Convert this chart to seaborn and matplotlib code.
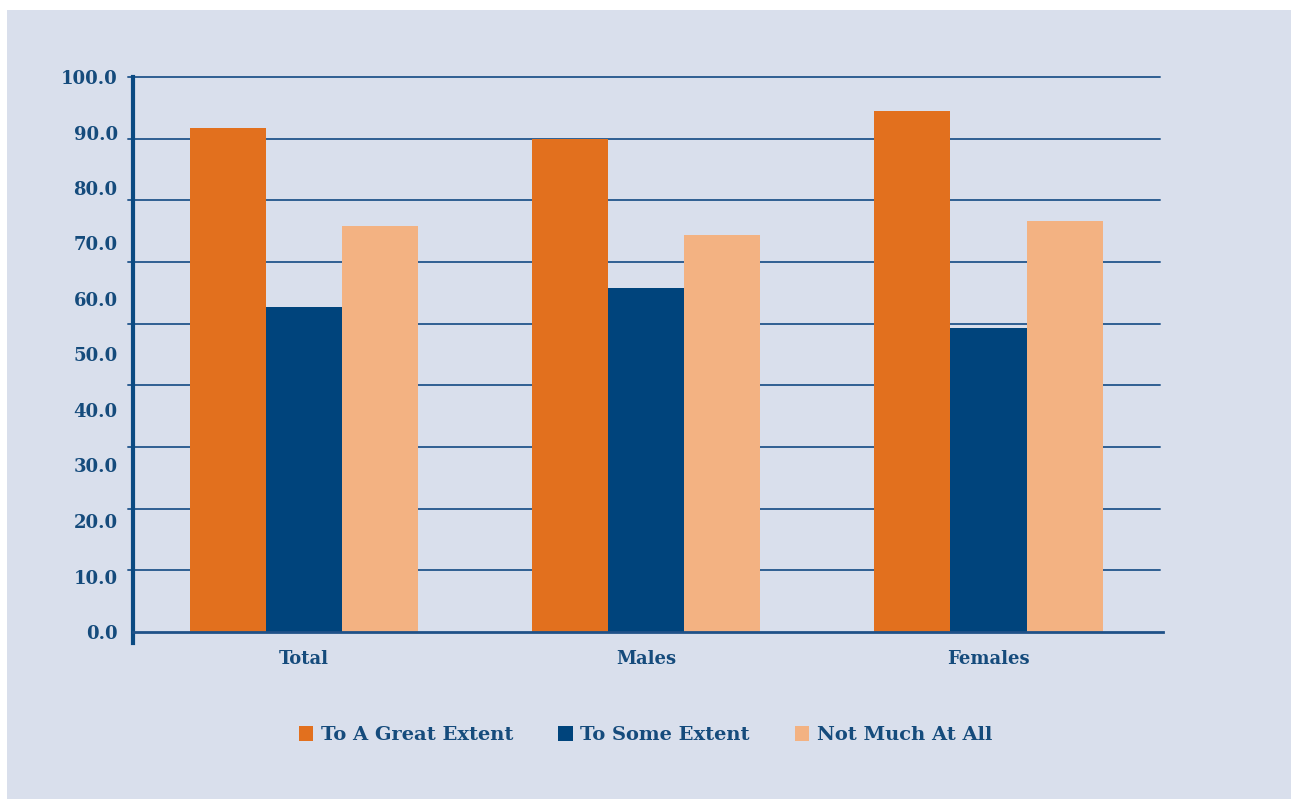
import numpy as np
import pandas as pd
import matplotlib
matplotlib.use("Agg")
import matplotlib.pyplot as plt
import seaborn as sns
from matplotlib.patches import Rectangle, Patch

# ---- data ----
groups = ["Total", "Males", "Females"]
responses = ["To A Great Extent", "To Some Extent", "Not Much At All"]
great_extent = [90.8, 88.8, 93.9]
some_extent = [58.6, 62.0, 54.8]
not_much = [73.2, 71.5, 74.1]
y_tick_values = [0, 10, 20, 30, 40, 50, 60, 70, 80, 90, 100]
y_tick_labels = ["0.0", "10.0", "20.0", "30.0", "40.0", "50.0",
                 "60.0", "70.0", "80.0", "90.0", "100.0"]

colors = ["#e2701e", "#00447c", "#f3b282"]
text_color = "#154b7c"
line_color = "#2f5f92"
panel_color = "#d9dfec"

df = pd.DataFrame({
    "group": groups * 3,
    "response": [responses[0]] * 3 + [responses[1]] * 3 + [responses[2]] * 3,
    "value": great_extent + some_extent + not_much,
})

sns.set_theme(style="white")
plt.rcParams["font.family"] = ["DejaVu Serif"]

W, H = 1291, 799
fig = plt.figure(figsize=(W / 100, H / 100), dpi=100, facecolor="white")
fig.patches.append(Rectangle((7 / W, 0), (W - 7) / W, 1 - 10 / H,
                             transform=fig.transFigure, facecolor=panel_color,
                             edgecolor="none", zorder=-10))

ax = fig.add_axes([133 / W, 1 - 632 / H, (1163 - 133) / W, (632 - 77) / H])
ax.set_facecolor("none")

sns.barplot(data=df, x="group", y="value", hue="response", order=groups,
            hue_order=responses, palette=colors, saturation=1, width=0.667,
            errorbar=None, edgecolor="none", legend=False, ax=ax, zorder=3)

ax.set_xlim(-0.5, 2.51)
ax.set_ylim(0, 100)
ax.set_xlabel("")
ax.set_ylabel("")

# horizontal rules (nine equal intervals, as in the source)
for v in np.linspace(0, 100, 10)[1:]:
    ax.axhline(v, xmin=-0.005, xmax=0.997, color=line_color, linewidth=1.4,
               clip_on=False, zorder=1)

# y tick labels
ax.set_yticks(y_tick_values)
ax.set_yticklabels(y_tick_labels)
ax.tick_params(axis="y", which="major", length=0, pad=11,
               labelsize=13, labelcolor=text_color)
ax.yaxis.grid(False)
for lbl in ax.get_yticklabels():
    lbl.set_fontweight("bold")

# x ticks: labels on majors, boundary marks on minors
ax.set_xticks([0, 1, 2])
ax.set_xticklabels(groups)
ax.set_xticks([0.5, 1.5, 2.51], minor=True)
ax.tick_params(axis="x", which="major", length=0, pad=13,
               labelsize=13, labelcolor=text_color)
ax.tick_params(axis="x", which="minor", length=6, width=2,
               color="#1f5188", direction="out")
for lbl in ax.get_xticklabels():
    lbl.set_fontweight("bold")

for s in ["top", "right"]:
    ax.spines[s].set_visible(False)
ax.spines["left"].set_color("#0b4a82")
ax.spines["left"].set_linewidth(3)
ax.spines["left"].set_bounds(-2, 100)
ax.spines["bottom"].set_color("#1f5188")
ax.spines["bottom"].set_linewidth(2)
ax.spines["bottom"].set_zorder(4)

handles = [Patch(facecolor=c, edgecolor="none") for c in colors]
fig.legend(handles, responses, loc="center", bbox_to_anchor=(0.5, 1 - 735 / H),
           ncol=3, frameon=False, handlelength=0.75, handleheight=0.85,
           handletextpad=0.4, columnspacing=2.3,
           prop={"weight": "bold", "size": 14, "family": "DejaVu Serif"},
           labelcolor=text_color)

fig.savefig("out.png", dpi=100, facecolor="white")
